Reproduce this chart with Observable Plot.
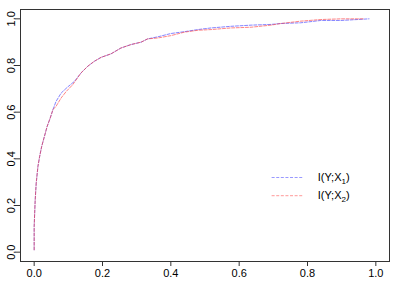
<!DOCTYPE html>
<html><head><meta charset="utf-8">
<script src="https://cdn.jsdelivr.net/npm/d3@7"></script>
<script src="https://cdn.jsdelivr.net/npm/@observablehq/plot@0.6"></script>
<style>
body{margin:0;background:#fff;}
svg{font-family:"Liberation Sans",Arial,sans-serif;}
</style></head><body><div id="chart"></div>
<script>
const x1 = [0,0,0.003,0.006,0.011,0.016,0.022,0.03,0.038,0.047,0.055,0.064,0.079,0.098,0.118,0.137,0.157,0.176,0.196,0.225,0.254,0.284,0.313,0.332,0.362,0.4,0.44,0.479,0.518,0.576,0.635,0.693,0.722,0.78,0.839,0.898,0.946,0.98];
const y1 = [0.01,0.11,0.224,0.296,0.367,0.41,0.453,0.496,0.539,0.575,0.611,0.646,0.682,0.708,0.732,0.768,0.797,0.818,0.835,0.85,0.875,0.89,0.9,0.914,0.923,0.937,0.945,0.954,0.961,0.968,0.973,0.976,0.98,0.983,0.993,0.993,0.997,1.0];
const x2 = [0,0,0.003,0.006,0.011,0.016,0.022,0.03,0.038,0.047,0.055,0.064,0.079,0.094,0.113,0.137,0.157,0.176,0.196,0.225,0.254,0.284,0.313,0.332,0.362,0.4,0.44,0.479,0.518,0.576,0.635,0.693,0.722,0.78,0.839,0.898,0.946,0.966];
const y2 = [0.01,0.11,0.224,0.296,0.367,0.41,0.453,0.496,0.539,0.575,0.611,0.625,0.661,0.689,0.718,0.768,0.797,0.818,0.835,0.85,0.875,0.89,0.9,0.914,0.918,0.928,0.943,0.951,0.954,0.961,0.964,0.973,0.98,0.99,0.997,1.0,1.0,1.0];
const xTicks = [0,0.2,0.4,0.6,0.8,1.0];
const yTicks = [0,0.2,0.4,0.6,0.8,1.0];
const seriesNames = ["I(Y;X_1)","I(Y;X_2)"];
const seriesColors = ["#3333ff","#ff3333"];
const legendX = [0.695,0.786,0.83];
const legendY = [0.32,0.242];

const s1 = x1.map((x,i)=>({x, y:y1[i]}));
const s2 = x2.map((x,i)=>({x, y:y2[i]}));
const leg = seriesNames.map((n,i)=>({name:n, color:seriesColors[i], y:legendY[i]}));
const fmt = d => d.toFixed(1);
const dash = "3,1.6";

const plot = Plot.plot({
  width: 399, height: 281,
  marginLeft: 20, marginRight: 10, marginTop: 9, marginBottom: 20,
  style: {fontFamily: '"Liberation Sans",Arial,sans-serif', fontSize: "11px", background: "#fff", color: "#000"},
  x: {domain: [-0.04, 1.04], axis: null},
  y: {domain: [-0.04, 1.04], axis: null},
  marks: [
    Plot.frame({stroke: "#333", strokeWidth: 1}),
    Plot.axisX({ticks: xTicks, tickSize: 5, tickPadding: 3, tickFormat: fmt, label: null, stroke: "#333", fill: "#000", fontSize: 11}),
    Plot.axisY({ticks: yTicks, tickSize: 5, tickFormat: () => "", label: null, stroke: "#333"}),
    Plot.text(yTicks, {y: d => d, frameAnchor: "left", textAnchor: "middle", dx: -9, rotate: -90, text: fmt, fontSize: 11, fill: "#000"}),
    Plot.line(s1, {x: "x", y: "y", stroke: seriesColors[0], strokeWidth: 1, strokeDasharray: dash, strokeOpacity: 0.6}),
    Plot.line(s2, {x: "x", y: "y", stroke: seriesColors[1], strokeWidth: 1, strokeDasharray: dash, strokeOpacity: 0.6}),
    ...leg.map(d => Plot.link([d], {x1: () => legendX[0], x2: () => legendX[1], y1: "y", y2: "y", stroke: d.color, strokeWidth: 1, strokeDasharray: dash, strokeOpacity: 0.5})),
    Plot.text(leg, {x: () => legendX[2], y: "y", text: "name", textAnchor: "start", fontSize: 11, fill: "#000"})
  ]
});
// subscripts
plot.querySelectorAll("text").forEach(t => {
  const s = t.textContent;
  const m = s.match(/^(.*)_(\d)(.*)$/);
  if (m) {
    t.textContent = "";
    const ns = "http://www.w3.org/2000/svg";
    const a = document.createElementNS(ns, "tspan"); a.textContent = m[1];
    const b = document.createElementNS(ns, "tspan"); b.textContent = m[2];
    b.setAttribute("dy", "3"); b.setAttribute("font-size", "8");
    const c = document.createElementNS(ns, "tspan"); c.textContent = m[3];
    c.setAttribute("dy", "-3");
    t.append(a, b, c);
  }
});
document.getElementById("chart").append(plot);
</script></body></html>
